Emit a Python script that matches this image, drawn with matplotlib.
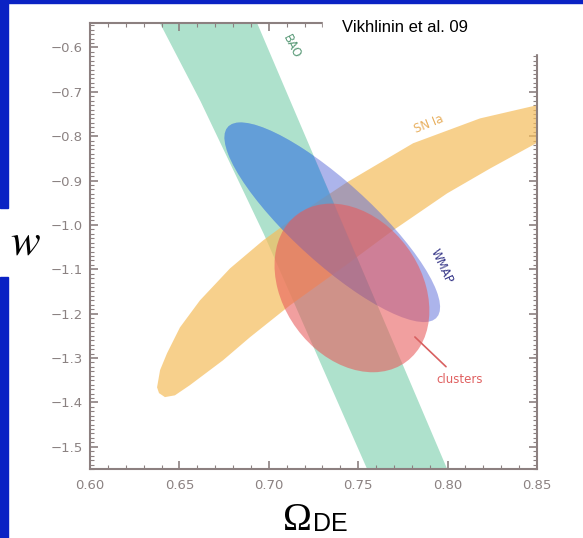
import numpy as np
import matplotlib
matplotlib.use("Agg")
from matplotlib import pyplot as plt
from matplotlib.patches import Ellipse, Rectangle
from matplotlib.ticker import MultipleLocator

# BAO band: left / right edges (Omega_DE) at given w
bao_w = [-0.53, -0.72, -1.02, -1.57]
bao_left = [0.637, 0.6615, 0.697, 0.757]
bao_right = [0.6917, 0.7118, 0.7436, 0.8017]

# SN Ia contour outline (Omega_DE, w)
sn_omega = [0.6375, 0.6392, 0.6431, 0.6503, 0.6615, 0.6783, 0.6968, 0.7175,
            0.7437, 0.7807, 0.8181, 0.8545,
            0.8545, 0.8237, 0.7997, 0.7678, 0.7437, 0.7119, 0.6895, 0.6744,
            0.6559, 0.6475, 0.6419, 0.6386]
sn_w = [-1.366, -1.327, -1.289, -1.231, -1.170, -1.098, -1.035, -0.974,
        -0.904, -0.816, -0.760, -0.726,
        -0.805, -0.873, -0.929, -1.017, -1.089, -1.181, -1.253, -1.305,
        -1.361, -1.384, -1.388, -1.379]

# WMAP and clusters: centre, sigma(Omega_DE), sigma(w), correlation
wmap_center = (0.7355, -0.994)
wmap_sigma = (0.0603, 0.2249)
wmap_rho = -0.85

cl_center = (0.7465, -1.142)
cl_sigma = (0.0433, 0.190)
cl_rho = -0.27

xticks = [0.60, 0.65, 0.70, 0.75, 0.80, 0.85]
yticks = [-0.6, -0.7, -0.8, -0.9, -1.0, -1.1, -1.2, -1.3, -1.4, -1.5]


def fisher_ellipse(center, sigma, rho, **kw):
    cov = np.array([[sigma[0] ** 2, rho * sigma[0] * sigma[1]],
                    [rho * sigma[0] * sigma[1], sigma[1] ** 2]])
    vals, vecs = np.linalg.eigh(cov)
    angle = np.degrees(np.arctan2(vecs[1, 1], vecs[0, 1]))
    return Ellipse(center, 2 * np.sqrt(vals[1]), 2 * np.sqrt(vals[0]),
                   angle=angle, **kw)


blue = "#0a22c4"
fig = plt.figure(figsize=(5.83, 5.38), dpi=100)

# slide background pieces
fig.add_artist(Rectangle((0, 1 - 3 / 538), 1, 3 / 538,
                         transform=fig.transFigure, color=blue, zorder=7))
fig.add_artist(Rectangle((0, 1 - 208 / 538), 8 / 583, 208 / 538,
                         transform=fig.transFigure, color=blue, zorder=0))
fig.add_artist(Rectangle((0, 0), 8 / 583, 1 - 277 / 538,
                         transform=fig.transFigure, color=blue, zorder=0))

ax = fig.add_axes([90 / 583, 1 - 469 / 538, 447 / 583, 446 / 538])

bao = ax.fill_betweenx(bao_w, bao_left, bao_right, color="#78cdaa",
                       alpha=0.6, lw=0, zorder=1)
ax.fill(sn_omega, sn_w, color="#f5bd5c", alpha=0.7, lw=0, zorder=2)
ax.add_patch(fisher_ellipse(wmap_center, wmap_sigma, wmap_rho,
                            color="#5a6ad8", alpha=0.5, lw=0, zorder=3))
# WMAP looks bluer where it sits on the BAO band
wmap_on_bao = fisher_ellipse(wmap_center, wmap_sigma, wmap_rho,
                             color="#3c96e0", alpha=0.45, lw=0, zorder=3.5)
ax.add_patch(wmap_on_bao)
wmap_on_bao.set_clip_path(bao.get_paths()[0], ax.transData)
ax.add_patch(fisher_ellipse(cl_center, cl_sigma, cl_rho,
                            color="#e85a5a", alpha=0.58, lw=0, zorder=4))

ax.text(0.7129, -0.598, "BAO", color="#5a9a78", fontsize=8.5, rotation=-63,
        ha="center", va="center", zorder=5)
ax.text(0.7895, -0.773, "SN Ia", color="#e8b060", fontsize=8.5, rotation=22,
        ha="center", va="center", zorder=5)
ax.text(0.7968, -1.093, "WMAP", color="#3a3a8a", fontsize=8.5, rotation=-65,
        ha="center", va="center", zorder=5)
ax.annotate("clusters", xy=(0.7817, -1.2525), xytext=(0.8068, -1.349),
            color="#e06060", fontsize=8.5, ha="center", va="center", zorder=5,
            arrowprops=dict(arrowstyle="-", color="#d86060", lw=1.2,
                            shrinkA=4, shrinkB=0))

ax.set_xlim(0.60, 0.85)
ax.set_ylim(-1.55, -0.545)
ax.set_xticks(xticks)
ax.set_yticks(yticks)
ax.xaxis.set_minor_locator(MultipleLocator(0.01))
ax.yaxis.set_minor_locator(MultipleLocator(0.01))
frame = "#8c8080"
for s in ax.spines.values():
    s.set_color(frame)
    s.set_linewidth(1.5)
ax.tick_params(which="both", direction="in", top=True, right=True,
               color=frame, labelcolor="#8b8282", labelsize=9.5)
ax.tick_params(which="major", length=6, width=1.2)
ax.tick_params(which="minor", length=3, width=0.8)
ax.tick_params(axis="x", pad=7)
ax.tick_params(axis="y", pad=5)

ax.set_ylabel("$w$", fontsize=32, rotation=0, math_fontfamily="stix")
ax.yaxis.set_label_coords(-0.145, 0.51)
ax.yaxis.label.set_va("center")
ax.set_xlabel("Ω", fontsize=28, family="Liberation Serif")
ax.xaxis.set_label_coords(0.465, -0.137)
ax.xaxis.label.set_va("baseline")
fig.text(313 / 583, 1 - 531 / 538, "DE", fontsize=18,
         family="Liberation Sans", ha="left", va="baseline")

# white box with the reference
fig.add_artist(Rectangle((323 / 583, 1 - 53 / 538), 237 / 583, 50 / 538,
                         transform=fig.transFigure, color="white", zorder=5))
fig.text(342 / 583, 1 - 28 / 538, "Vikhlinin et al. 09", fontsize=12,
         family="Liberation Sans", va="center", ha="left", zorder=6)

fig.savefig("out.png", dpi=100)
